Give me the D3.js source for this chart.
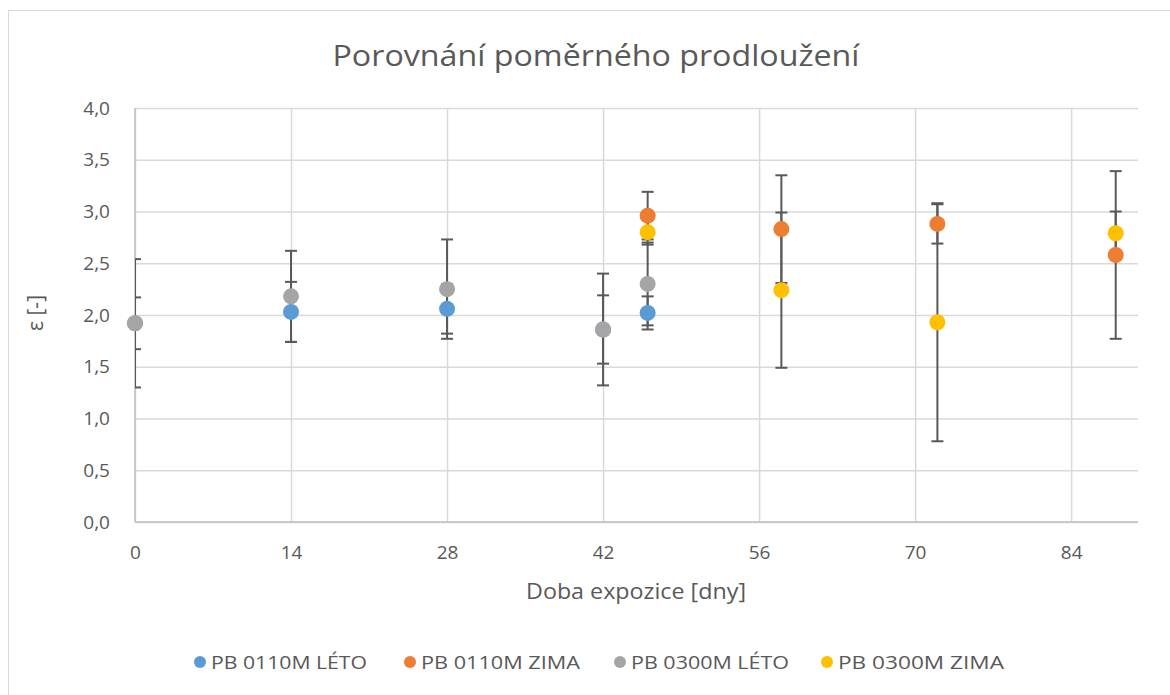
<!DOCTYPE html>
<html><head><meta charset="utf-8">
<script src="https://cdn.jsdelivr.net/npm/d3@7"></script>
<style>body{margin:0;background:#fff;} svg{display:block;} text{font-family:"Open Sans","Noto Sans",sans-serif;fill:#595959;}</style>
</head><body><svg id="c" width="1170" height="695"></svg>
<script>
const title = "Porovnání poměrného prodloužení";
const xTitle = "Doba expozice [dny]";
const yTitle = "ε [-]";
const xTicks = [0, 14, 28, 42, 56, 70, 84];
const yTicks = [0, 0.5, 1, 1.5, 2, 2.5, 3, 3.5, 4];
const seriesNames = ["PB 0110M LÉTO", "PB 0110M ZIMA", "PB 0300M LÉTO", "PB 0300M ZIMA"];
const colors = ["#5b9bd5", "#ed7d31", "#a5a5a5", "#ffc000"];
const daysLeto = [0, 14, 28, 42, 46];
const daysZima = [46, 58, 72, 88];
const blueVals = [1.92, 2.03, 2.06, 1.86, 2.02];
const blueErr = [0.25, 0.29, 0.24, 0.33, 0.16];
const orangeVals = [2.96, 2.83, 2.88, 2.58];
const orangeErr = [0.23, 0.52, 0.19, 0.81];
const grayVals = [1.92, 2.18, 2.25, 1.86, 2.30];
const grayErr = [0.62, 0.44, 0.48, 0.54, 0.40];
const yellowVals = [2.80, 2.24, 1.93, 2.79];
const yellowErr = [0.12, 0.75, 1.15, 0.21];

const series = [
  {name: seriesNames[0], color: colors[0], days: daysLeto, vals: blueVals, err: blueErr},
  {name: seriesNames[1], color: colors[1], days: daysZima, vals: orangeVals, err: orangeErr},
  {name: seriesNames[2], color: colors[2], days: daysLeto, vals: grayVals, err: grayErr},
  {name: seriesNames[3], color: colors[3], days: daysZima, vals: yellowVals, err: yellowErr}
];

const svg = d3.select("#c");
const L = 135, R = 1138, T = 108, B = 522;
const x = d3.scaleLinear().domain([0, 90]).range([L, R]);
const y = d3.scaleLinear().domain([0, 4]).range([B, T]);
const fmt = d3.format(".1f");

svg.append("rect").attr("x", 8.5).attr("y", 10.5).attr("width", 1300).attr("height", 800)
  .attr("fill", "#fff").attr("stroke", "#d9d9d9").attr("stroke-width", 1);

svg.append("defs").append("clipPath").attr("id", "pa").append("rect")
  .attr("x", L).attr("y", T - 2).attr("width", R - L).attr("height", B - T + 4);

// gridlines
const gy = svg.append("g").attr("transform", `translate(${L},0)`)
  .call(d3.axisLeft(y).tickValues(yTicks).tickSize(-(R - L)).tickFormat(""));
gy.select(".domain").remove();
gy.selectAll("line").attr("stroke", "#d9d9d9").attr("stroke-width", 1.5);
const gx = svg.append("g").attr("transform", `translate(0,${B})`)
  .call(d3.axisBottom(x).tickValues(xTicks).tickSize(-(B - T)).tickFormat(""));
gx.select(".domain").remove();
gx.selectAll("line").attr("stroke", "#d9d9d9").attr("stroke-width", 1.5);

// axes lines
svg.append("line").attr("x1", L).attr("x2", L).attr("y1", T).attr("y2", B).attr("stroke", "#bfbfbf").attr("stroke-width", 1.5);
svg.append("line").attr("x1", L).attr("x2", R).attr("y1", B).attr("y2", B).attr("stroke", "#bfbfbf").attr("stroke-width", 1.5);

// tick labels via axes
const ay = svg.append("g").attr("transform", `translate(${L - 22},0)`)
  .call(d3.axisLeft(y).tickValues(yTicks).tickSize(0).tickFormat(d => fmt(d).replace(".", ",")));
ay.select(".domain").remove();
ay.selectAll("text").attr("font-size", 19).attr("fill", "#595959").attr("font-family", "Open Sans");
const ax = svg.append("g").attr("transform", `translate(0,${B + 20})`)
  .call(d3.axisBottom(x).tickValues(xTicks).tickSize(0).tickFormat(d3.format("d")));
ax.select(".domain").remove();
ax.selectAll("text").attr("font-size", 19).attr("fill", "#595959").attr("font-family", "Open Sans");

// error bars
const eb = svg.append("g").attr("clip-path", "url(#pa)");
series.forEach(s => {
  s.days.forEach((d, i) => {
    const cx = x(d), y1 = y(s.vals[i] + s.err[i]), y2 = y(s.vals[i] - s.err[i]);
    eb.append("line").attr("x1", cx).attr("x2", cx).attr("y1", y1).attr("y2", y2).attr("stroke", "#595959").attr("stroke-width", 2);
    [y1, y2].forEach(yy => eb.append("line").attr("x1", cx - 6).attr("x2", cx + 6).attr("y1", yy).attr("y2", yy).attr("stroke", "#595959").attr("stroke-width", 2));
  });
});

// markers
series.forEach(s => {
  svg.append("g").selectAll("circle").data(s.days.map((d, i) => [d, s.vals[i]])).join("circle")
    .attr("cx", d => x(d[0])).attr("cy", d => y(d[1])).attr("r", 8).attr("fill", s.color);
});

// titles
svg.append("text").attr("x", 596).attr("y", 66).attr("text-anchor", "middle").attr("font-size", 29)
  .attr("textLength", 527).attr("lengthAdjust", "spacingAndGlyphs").text(title);
svg.append("text").attr("x", 636).attr("y", 599).attr("text-anchor", "middle").attr("font-size", 21)
  .attr("textLength", 220).attr("lengthAdjust", "spacingAndGlyphs").text(xTitle);
svg.append("text").attr("transform", "translate(43,313) rotate(-90)").attr("text-anchor", "middle").attr("font-size", 21).text(yTitle);

// legend
const legX = [200, 410, 620, 827];
const legW = [156, 159, 158, 166];
series.forEach((s, i) => {
  svg.append("circle").attr("cx", legX[i]).attr("cy", 662).attr("r", 6).attr("fill", s.color);
  svg.append("text").attr("x", legX[i] + 11).attr("y", 669).attr("font-size", 19)
    .attr("textLength", legW[i]).attr("lengthAdjust", "spacingAndGlyphs").text(s.name);
});
</script></body></html>
